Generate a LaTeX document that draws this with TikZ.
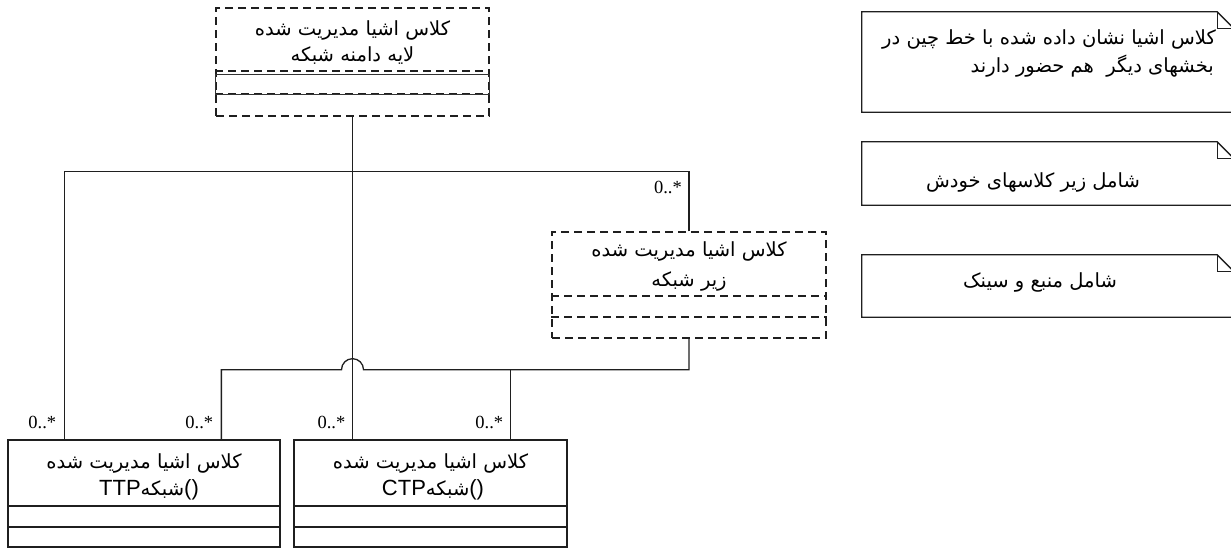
\documentclass[tikz,border=0pt]{standalone}
\usepackage{fontspec}
\usetikzlibrary{calc}
\TeXXeTstate=1
\setmainfont{Liberation Serif}
\newfontfamily\arabicfont[Script=Arabic]{DejaVu Sans}
\newfontfamily\latinsans{Liberation Sans}
\newcommand{\ar}[1]{{\arabicfont\beginR #1\endR}}
\newcommand{\lat}[1]{{\latinsans\fontsize{22}{22}\selectfont #1}}

\begin{document}
\begin{tikzpicture}[x=1pt,y=-1pt,
  ln/.style={line width=1.3pt, draw=black!88},
  dsh/.style={ln, dash pattern=on 8pt off 5pt},
  thin/.style={line width=0.8pt, draw=black!80},
  box/.style={rectangle, inner sep=0pt, minimum width=#1},
  txt/.style={inner sep=0pt, font=\fontsize{19.5}{22}\selectfont},
  ntxt/.style={inner sep=0pt, font=\fontsize{19.5}{22}\selectfont},
  mult/.style={inner sep=0pt, font=\fontsize{18.5}{20}\selectfont}]
\useasboundingbox (0,0) rectangle (1231,550);

% ---- classes ----
\node[box=273pt, dsh, minimum height=108pt] (dom) at (352.5,62) {};
\node[txt] (domA) at (352.5,30) {\ar{کلاس اشیا مدیریت شده}};
\node[txt] (domB) at (352.5,56) {\ar{لایه دامنه شبکه}};
\draw[dsh] (dom.west |- 0,71) -- (dom.east |- 0,71);
\draw[dsh] (dom.west |- 0,94) -- (dom.east |- 0,94);
\draw[thin] (dom.west |- 0,74) rectangle (dom.east |- 0,94);

\node[box=274pt, dsh, minimum height=106pt] (sub) at (689,285) {};
\node[txt] (subA) at (689,251) {\ar{کلاس اشیا مدیریت شده}};
\node[txt] (subB) at (689,281) {\ar{زیر شبکه}};
\draw[dsh] (sub.west |- 0,296) -- (sub.east |- 0,296);
\draw[dsh] (sub.west |- 0,317) -- (sub.east |- 0,317);

\node[box=272pt, ln, minimum height=107pt] (ttp) at (144,493.5) {};
\node[txt] (ttpA) at (144,463) {\ar{کلاس اشیا مدیریت شده}};
\node[txt] (ttpB) at (149,490) {\lat{TTP}\ar{شبکه}\lat{()}};
\draw[ln] (ttp.west |- 0,506) -- (ttp.east |- 0,506);
\draw[ln] (ttp.west |- 0,527) -- (ttp.east |- 0,527);

\node[box=273pt, ln, minimum height=107pt] (ctp) at (430.5,493.5) {};
\node[txt] (ctpA) at (430.5,463) {\ar{کلاس اشیا مدیریت شده}};
\node[txt] (ctpB) at (433,490) {\lat{CTP}\ar{شبکه}\lat{()}};
\draw[ln] (ctp.west |- 0,506) -- (ctp.east |- 0,506);
\draw[ln] (ctp.west |- 0,527) -- (ctp.east |- 0,527);

% ---- associations ----
\coordinate (busT) at ($(sub.north)+(0,-60)$);
\coordinate (busB) at ($(sub.south)+(0,31)$);
\coordinate (pL1) at ($(ttp.north west)+(57,0)$);
\coordinate (pL2) at ($(ttp.north west)+(214,0)$);
\coordinate (pC1) at (dom.south |- ctp.north);
\coordinate (pC2) at ($(ctp.north west)+(217,0)$);

\draw[ln] (sub.north) -- (busT) -| (pL1);
\draw[ln] (dom.south) -- (pC1);
\draw[ln] (sub.south) -- (busB) -- ($(busB -| dom.south)+(11,0)$)
  arc[start angle=0,end angle=180,radius=11pt] -| (pL2);
\draw[ln] (pC2) -- (pC2 |- busB);

\node[mult, anchor=east] (m0) at ($(sub.north)+(-7,-44)$) {0..*};
\node[mult, anchor=east] (m1) at ($(pL1)+(-8,-17)$) {0..*};
\node[mult, anchor=east] (m2) at ($(pL2)+(-8,-17)$) {0..*};
\node[mult, anchor=east] (m3) at ($(pC1)+(-7,-17)$) {0..*};
\node[mult, anchor=east] (m4) at ($(pC2)+(-7,-17)$) {0..*};

% ---- notes ----
\node[box=372pt, minimum height=100pt] (n1) at (1048,62) {};
\node[box=372pt, minimum height=63pt] (n2) at (1048,173.5) {};
\node[box=372pt, minimum height=62pt] (n3) at (1048,286) {};
\foreach \n in {n1,n2,n3}{
  \draw[ln] (\n.south west) -- (\n.north west) -- ($(\n.north east)+(-17,0)$)
    -- ($(\n.north east)+(0,17)$) -- (\n.south east) -- cycle;
  \draw[ln] ($(\n.north east)+(-17,0)$) |- ($(\n.north east)+(0,17)$);
}
\node[ntxt, anchor=east] (n1a) at (1216,39) {\ar{کلاس اشیا نشان داده شده با خط چین در}};
\node[ntxt, anchor=east] (n1b) at (1214,66) {\ar{بخشهای دیگر\ \ هم حضور دارند}};
\node[ntxt] (n2a) at (1033,182) {\ar{شامل زیر کلاسهای خودش}};
\node[ntxt] (n3a) at (1040,282) {\ar{شامل منبع و سینک}};
\end{tikzpicture}
\end{document}
